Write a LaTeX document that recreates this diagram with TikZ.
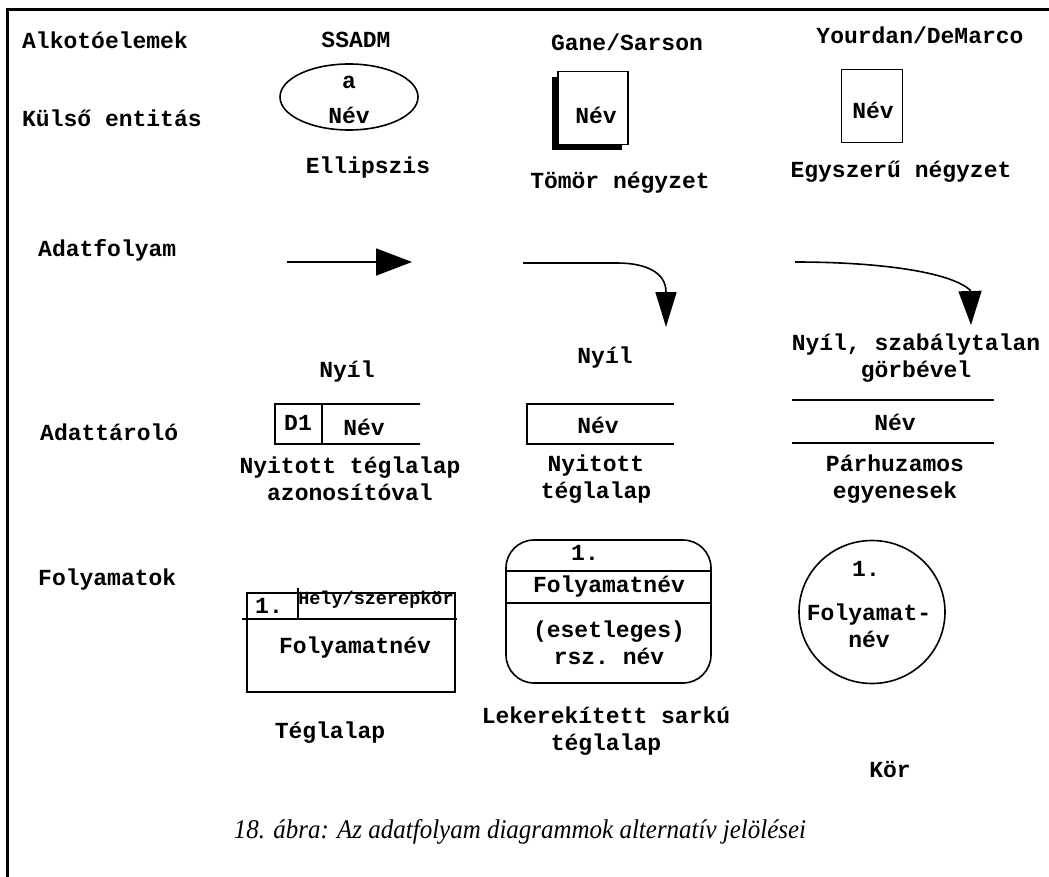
\documentclass[tikz,border=0pt]{standalone}
\usepackage{fontspec}
\setmonofont{Liberation Mono}
\newfontfamily\capfont{Liberation Serif}
\usepackage{tikz}
\usetikzlibrary{arrows.meta,shapes.geometric,shadows}

\tikzset{
  lbl/.style={font=\ttfamily\bfseries\fontsize{23}{27}\selectfont, align=center, inner sep=0pt},
  rowlbl/.style={lbl, anchor=west},
  smalllbl/.style={font=\ttfamily\bfseries\fontsize{18.5}{21}\selectfont, inner sep=0pt},
  shape line/.style={line width=1.6pt},
}

\begin{document}
\begin{tikzpicture}[x=1pt,y=-1pt]
  \useasboundingbox (0,0) rectangle (1049,877);
  \draw[line width=3pt] (7,877) -- (7,10) -- (1049,10);

  % column and row headings
  \node[rowlbl] (alko) at (22,40) {Alkotóelemek};
  \node[lbl] (ssadm) at (356,40) {SSADM};
  \node[lbl] (gane) at (627,42) {Gane/Sarson};
  \node[lbl] (yourdan) at (920,35) {Yourdan/DeMarco};
  \node[rowlbl] (kulso) at (22,118) {Külső entitás};
  \node[rowlbl] (adatf) at (38,250) {Adatfolyam};
  \node[rowlbl] (adatt) at (40,432) {Adattároló};
  \node[rowlbl] (folyam) at (38,580) {Folyamatok};

  % kulso entitas
  \node[draw, shape line, ellipse, minimum width=138, minimum height=66] (ell) at (349,97) {};
  \node[lbl] (ella) at (349,82) {a};
  \node[lbl] (ellnev) at (349,115) {Név};
  \node[draw, shape line, fill=white, minimum width=70, minimum height=73,
        drop shadow={shadow xshift=-6pt, shadow yshift=-6pt, fill=black, opacity=1}] (gbox) at (593,108) {};
  \node[lbl] (gnev) at (596,115) {Név};
  \node[draw, shape line, minimum width=61, minimum height=73] (ybox) at (872,106) {};
  \node[lbl] (ynev) at (873,110) {Név};
  \node[lbl] (ellipszis) at (368,168) {Ellipszis};
  \node[lbl] (tomor) at (620,183) {Tömör négyzet};
  \node[lbl] (egyszeru) at (901,172) {Egyszerű négyzet};

  % adatfolyam
  \coordinate (s1) at (287,262); \coordinate (e1) at (412,262);
  \draw[shape line, -{Triangle[length=36pt,width=27pt]}] (s1) -- (e1);
  \coordinate (s2) at (523,263); \coordinate (e2) at (666,327);
  \draw[shape line, -{Triangle[length=35pt,width=21pt]}] (s2) -- (617,263)
    .. controls (645,263) and (666,272) .. (666,292) -- (e2);
  \coordinate (s3) at (795,262); \coordinate (e3) at (971,325);
  \draw[shape line, -{Triangle[length=34pt,width=23pt]}] (s3)
    .. controls (880,262) and (950,272) .. (970,290) -- (e3);
  \node[lbl] (nyil1) at (347,372) {Nyíl};
  \node[lbl] (nyil2) at (605,358) {Nyíl};
  \node[lbl] (nyil3) at (916,358) {Nyíl, szabálytalan\\görbével};

  % adattarolo
  \draw[shape line] (420,404) -- (275,404) -- (275,444) -- (420,444);
  \draw[shape line] (322,404) -- (322,444);
  \node[lbl] (d1) at (298,423) {D1};
  \node[lbl] (d1nev) at (364,427) {Név};
  \draw[shape line] (674,404) -- (527,404) -- (527,444) -- (674,444);
  \node[lbl] (gsnev) at (598,425) {Név};
  \draw[shape line] (792,400) -- (994,400);
  \draw[shape line] (792,443) -- (994,443);
  \node[lbl] (ysnev) at (895,422) {Név};
  \node[lbl] (nyt1) at (350,479) {Nyitott téglalap\\azonosítóval};
  \node[lbl] (nyt2) at (596,479) {Nyitott\\téglalap};
  \node[lbl] (parh) at (895,479) {Párhuzamos\\egyenesek};

  % folyamatok
  \draw[shape line] (247,593) rectangle (455,692);
  \draw[shape line] (242,619) -- (457,619);
  \draw[shape line] (298,588) -- (298,619);
  \node[lbl] (p1) at (269,606) {1.};
  \node[smalllbl] (hely) at (376,600) {Hely/szerepkör};
  \node[lbl] (p1nev) at (355,648) {Folyamatnév};
  \draw[shape line, rounded corners=28pt] (506,540) rectangle (711,683);
  \draw[shape line] (505,571) -- (711,571);
  \draw[shape line] (505,603) -- (711,603);
  \node[lbl] (r1) at (585,553) {1.};
  \node[lbl] (r1nev) at (609,587) {Folyamatnév};
  \node[lbl] (r1rsz) at (609,643) {(esetleges)\\rsz. név};
  \node[draw, shape line, ellipse, minimum width=146, minimum height=143] (kor) at (872,612) {};
  \node[lbl] (k1) at (866,569) {1.};
  \node[lbl] (k1nev) at (869,626) {Folyamat-\\név};
  \node[lbl] (teglalap) at (330,733) {Téglalap};
  \node[lbl] (lekerek) at (606,731) {Lekerekített sarkú\\téglalap};
  \node[lbl] (kortxt) at (890,770) {Kör};

  \node[font=\capfont\itshape\fontsize{27}{31}\selectfont, xscale=0.925, inner sep=0pt] (caption) at (520,832)
    {18. ábra: Az adatfolyam diagrammok alternatív jelölései};
\end{tikzpicture}
\end{document}
